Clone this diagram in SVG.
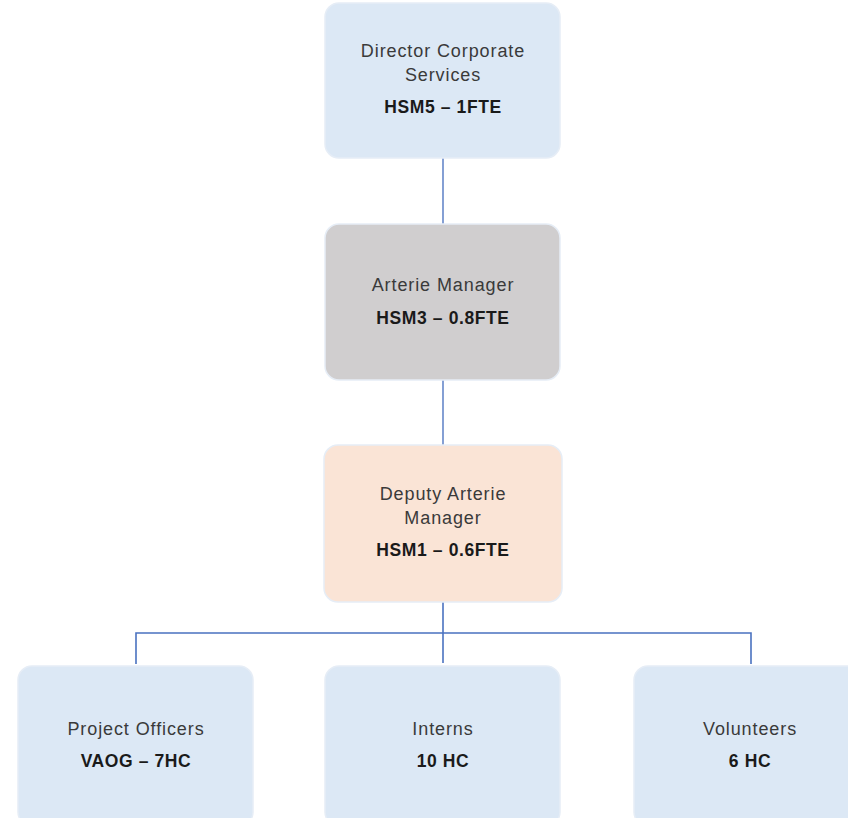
<svg xmlns="http://www.w3.org/2000/svg" width="848" height="818" viewBox="0 0 848 818">
<style>
.box{stroke:#e6edf6;stroke-width:1.5}
.blue{fill:#dce8f5}
.grey{fill:#d0cecf}
.peach{fill:#fae4d6}
.t{font-family:"Liberation Sans",Arial,sans-serif;font-size:18px;letter-spacing:0.9px;fill:#3a3a3a;text-anchor:middle}
.b{font-weight:bold;fill:#1a1a1a;font-size:17.5px;letter-spacing:0.6px}
.c{stroke:#4a72c0;stroke-width:1.6;fill:none}
</style>
<rect width="848" height="818" fill="#ffffff"/>
<g id="connectors">
<line class="c" x1="443" y1="158" x2="443" y2="224" stroke-opacity="0.85"/>
<line class="c" x1="443" y1="380" x2="443" y2="445" stroke-opacity="0.85"/>
<line class="c" x1="443" y1="602" x2="443" y2="663"/>
<polyline class="c" points="136,664 136,633 751,633 751,664"/>
</g>
<g id="director">
<rect class="box blue" x="325" y="3" width="235" height="155" rx="14"/>
<text class="t" x="443" y="57">Director Corporate</text>
<text class="t" x="443" y="81">Services</text>
<text class="t b" x="443" y="113">HSM5 – 1FTE</text>
</g>
<g id="manager">
<rect class="box grey" x="325" y="224" width="235" height="156" rx="14"/>
<text class="t" x="443" y="291">Arterie Manager</text>
<text class="t b" x="443" y="324">HSM3 – 0.8FTE</text>
</g>
<g id="deputy">
<rect class="box peach" x="324" y="445" width="238" height="157" rx="14"/>
<text class="t" x="443" y="500">Deputy Arterie</text>
<text class="t" x="443" y="524">Manager</text>
<text class="t b" x="443" y="556">HSM1 – 0.6FTE</text>
</g>
<g id="project-officers">
<rect class="box blue" x="18" y="666" width="235" height="160" rx="14"/>
<text class="t" x="136" y="735">Project Officers</text>
<text class="t b" x="136" y="767">VAOG – 7HC</text>
</g>
<g id="interns">
<rect class="box blue" x="325" y="666" width="235" height="160" rx="14"/>
<text class="t" x="443" y="735">Interns</text>
<text class="t b" x="443" y="767">10 HC</text>
</g>
<g id="volunteers">
<rect class="box blue" x="634" y="666" width="235" height="160" rx="14"/>
<text class="t" x="750" y="735">Volunteers</text>
<text class="t b" x="750" y="767">6 HC</text>
</g>
</svg>
